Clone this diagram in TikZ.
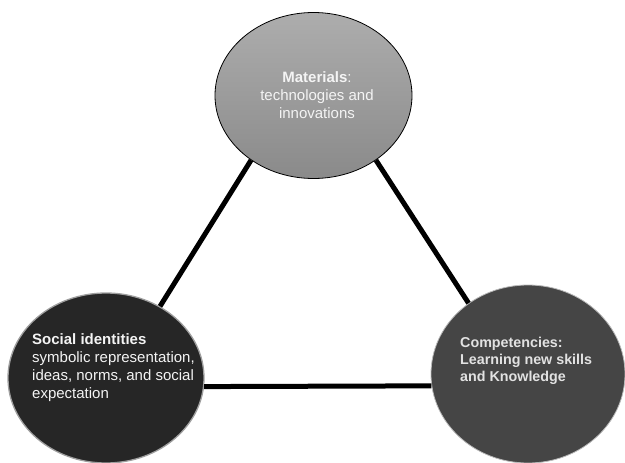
\documentclass[tikz,border=0pt]{standalone}
\usepackage{fontspec}
\setmainfont{Liberation Sans}
\usetikzlibrary{shapes.geometric}
\definecolor{topA}{HTML}{ADADAD}
\definecolor{topB}{HTML}{8A8A8A}
\definecolor{darkA}{HTML}{262626}
\definecolor{darkB}{HTML}{454545}
\definecolor{txtA}{HTML}{F4F4F4}
\definecolor{txtB}{HTML}{E2E2E2}
\tikzset{
  blob/.style={ellipse, inner sep=0pt},
  conn/.style={line width=5pt, black},
  lbl/.style={inner sep=0pt, font={\fontsize{15}{18}\selectfont}}
}
\begin{document}
\begin{tikzpicture}[x=1pt,y=-1pt]
\useasboundingbox (0,0) rectangle (625,463);
\node[blob, top color=topA, bottom color=topB, draw=black, line width=0.8pt,
      minimum width=197pt, minimum height=166pt] (mat) at (313.5,95.5) {};
\node[blob, fill=darkA, draw=gray!75, line width=1.3pt,
      minimum width=196pt, minimum height=170pt] (soc) at (106,378) {};
\node[blob, fill=darkB, draw=gray!55, line width=0.8pt,
      minimum width=194pt, minimum height=178pt] (comp) at (528,374) {};
\draw[conn] (mat.226) -- (soc.53);
\draw[conn] (mat.314) -- (comp.130);
\draw[conn] (soc.-5) -- (comp.187);
\node[lbl, align=center, text=txtA] (matt) at (317,95)
  {\textbf{Materials}:\\technologies and\\innovations};
\node[lbl, align=left, text=txtA, anchor=west] (soct) at (32,368)
  {\textbf{Social identities}\\symbolic representation,\\ideas, norms, and social\\expectation};
\node[lbl, align=left, text=txtB, anchor=west, font={\fontsize{14.3}{17}\selectfont\bfseries}] (compt) at (460,361)
  {Competencies:\\Learning new skills\\and Knowledge};
\end{tikzpicture}
\end{document}
